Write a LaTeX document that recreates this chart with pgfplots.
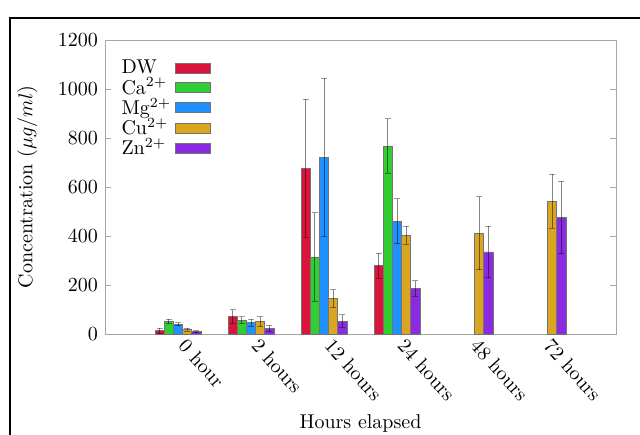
\documentclass[border=0pt]{standalone}
\usepackage{pgfplots}
\pgfplotsset{compat=1.18}
\definecolor{cDW}{RGB}{220,20,60}
\definecolor{cCa}{RGB}{50,205,50}
\definecolor{cMg}{RGB}{30,144,255}
\definecolor{cCu}{RGB}{218,165,32}
\definecolor{cZn}{RGB}{138,43,226}
\begin{document}
\begin{tikzpicture}
\begin{axis}[
  at={(0,0)}, anchor=south west,
  width=255.5pt, height=147pt, scale only axis,
  ybar=0pt, bar width=0.126,
  xmin=-1, xmax=6, ymin=0, ymax=1200,
  xtick={0,1,2,3,4,5},
  xticklabels={0 hour,2 hours,12 hours,24 hours,48 hours,72 hours},
  xticklabel style={xshift=5pt, rotate=-48, anchor=north west, inner sep=1pt},
  ytick={0,200,...,1200},
  yticklabel style={/pgf/number format/set thousands separator={}},
  axis line style={black!35},
  major tick length=3pt,
  tick align=inside,
  ytick style={black!35},
  xtick style={draw=none},
  xlabel={Hours elapsed},
  ylabel={Concentration ($\mu g/ml$)},
  xlabel style={at={(axis description cs:0.5,-0.303)}, anchor=center},
  ylabel style={at={(axis description cs:-0.152,0.5)}, anchor=center},
  legend style={draw=none, fill=none, at={(axis description cs:0.012,0.96)}, anchor=north west, row sep=-3.5pt},
  legend cell align=left,
  legend plot pos=right,
  legend image code/.code={\draw[#1] (0pt,-2.5pt) rectangle (17.5pt,2.5pt);},
  error bars/y dir=both, error bars/y explicit,
  error bars/error bar style={black, draw opacity=0.4, line width=0.5pt},
  error bars/error mark options={black, draw opacity=0.4, mark size=1.5pt, rotate=90, line width=0.5pt},
]
\addplot[fill=cDW, draw=black!55, line width=0.4pt] table[x=x, y=y, y error=e] {
x y e
0 13 11
1 71 27
2 676 282
3 278 51
};
\addlegendentry{DW}
\addplot[fill=cCa, draw=black!55, line width=0.4pt] table[x=x, y=y, y error=e] {
x y e
0 51 10
1 56 15
2 314 181
3 767 111
};
\addlegendentry{Ca$^{2+}$}
\addplot[fill=cMg, draw=black!55, line width=0.4pt] table[x=x, y=y, y error=e] {
x y e
0 40 6
1 46 14
2 721 322
3 461 92
};
\addlegendentry{Mg$^{2+}$}
\addplot[fill=cCu, draw=black!55, line width=0.4pt] table[x=x, y=y, y error=e] {
x y e
0 17 6
1 50 21
2 144 37
3 403 36
4 411 149
5 542 110
};
\addlegendentry{Cu$^{2+}$}
\addplot[fill=cZn, draw=black!55, line width=0.4pt] table[x=x, y=y, y error=e] {
x y e
0 10 4
1 22 13
2 53 26
3 186 32
4 335 105
5 475 148
};
\addlegendentry{Zn$^{2+}$}
\end{axis}
\draw[line width=1pt] (-47.5pt,-70pt) -- (-47.5pt,158pt) -- (290pt,158pt);
\pgfresetboundingbox
\useasboundingbox (-52.5pt,-50pt) rectangle (267.5pt,167pt);
\end{tikzpicture}
\end{document}
